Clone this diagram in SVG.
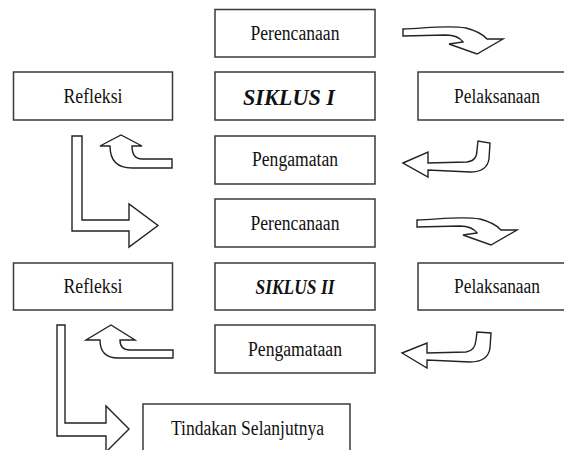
<svg xmlns="http://www.w3.org/2000/svg" width="564" height="450" viewBox="0 0 564 450">
<style>
.box{fill:#fff;stroke:#3a3a3a;stroke-width:1.5}
.t{font-family:"Liberation Serif","Times New Roman",serif;font-size:20px;fill:#111;text-anchor:middle}
.s{font-family:"Liberation Serif","Times New Roman",serif;font-weight:bold;font-style:italic;fill:#111;text-anchor:middle}
.arr{fill:#fff;stroke:#222;stroke-width:1.4;stroke-linejoin:miter}
</style>
<rect width="564" height="450" fill="#fff"/>
<g id="connectors">
<path class="arr" d="M403,29 C428,28 448,25 466,28 Q481,32 487,39 L503,39 L477,54 L449,44 L463,42 Q458,35 446,35 L403,36 Z"/>
<path class="arr" transform="translate(14,191)" d="M403,29 C428,28 448,25 466,28 Q481,32 487,39 L503,39 L477,54 L449,44 L463,42 Q458,35 446,35 L403,36 Z"/>
<path class="arr" d="M403,163 L428,152 L428,163 L467,162 Q477,161 477,150 L478,141 L490,143 L489,159 Q487,172 470,172 L428,170 L428,177 Z"/>
<path class="arr" d="M402,353 L427,343 L427,353 L466,352 Q475,351 476,340 L477,332 L491,333 L490,348 Q488,362 470,362 L427,360 L427,368 Z"/>
<path class="arr" d="M172,159 L142,159 Q132,159 132,146 L142,146 L121,135 L100,146 L110,146 Q110,168 132,168 L172,168 Z"/>
<path class="arr" d="M173,350 L130,350 Q120,350 120,340 L135,340 L111,325 L86,340 L100,340 Q100,358 118,358 L173,358 Z"/>
<path class="arr" d="M72,136 L82,136 L82,220 L129,220 L129,204 L158,225.5 L129,247 L129,231 L72,231 Z"/>
<path class="arr" d="M57,325 L65,325 L65,423 L106,423 L106,406 L129,429 L106,452 L106,436 L57,436 Z"/>
</g>
<g id="perencanaan1"><rect class="box" x="215" y="9.5" width="160" height="47.5"/><text class="t" x="295" y="39.5" textLength="89" lengthAdjust="spacingAndGlyphs">Perencanaan</text></g>
<g id="refleksi1"><rect class="box" x="13.5" y="72" width="159" height="48"/><text class="t" x="93" y="103" textLength="59" lengthAdjust="spacingAndGlyphs">Refleksi</text></g>
<g id="siklus1"><rect class="box" x="215" y="72" width="160" height="48"/><text class="s" x="289" y="105" font-size="24" textLength="92" lengthAdjust="spacingAndGlyphs">SIKLUS I</text></g>
<g id="pelaksanaan1"><rect class="box" x="418" y="72" width="160" height="48"/><text class="t" x="497" y="103" textLength="86" lengthAdjust="spacingAndGlyphs">Pelaksanaan</text></g>
<g id="pengamatan1"><rect class="box" x="215" y="136" width="160" height="48"/><text class="t" x="295" y="166" textLength="86" lengthAdjust="spacingAndGlyphs">Pengamatan</text></g>
<g id="perencanaan2"><rect class="box" x="215" y="199" width="160" height="48"/><text class="t" x="295" y="229.5" textLength="89" lengthAdjust="spacingAndGlyphs">Perencanaan</text></g>
<g id="refleksi2"><rect class="box" x="13.5" y="263" width="159" height="47"/><text class="t" x="93" y="293" textLength="59" lengthAdjust="spacingAndGlyphs">Refleksi</text></g>
<g id="siklus2"><rect class="box" x="215" y="263" width="160" height="47"/><text class="s" x="295" y="293.5" font-size="20" textLength="79" lengthAdjust="spacingAndGlyphs">SIKLUS II</text></g>
<g id="pelaksanaan2"><rect class="box" x="418" y="263" width="160" height="47"/><text class="t" x="497" y="293" textLength="86" lengthAdjust="spacingAndGlyphs">Pelaksanaan</text></g>
<g id="pengamataan2"><rect class="box" x="215" y="325" width="160" height="48"/><text class="t" x="295" y="355.5" textLength="94" lengthAdjust="spacingAndGlyphs">Pengamataan</text></g>
<g id="tindakan"><rect class="box" x="143" y="404" width="207" height="60"/><text class="t" x="247.5" y="435" textLength="153" lengthAdjust="spacingAndGlyphs">Tindakan Selanjutnya</text></g>
</svg>
